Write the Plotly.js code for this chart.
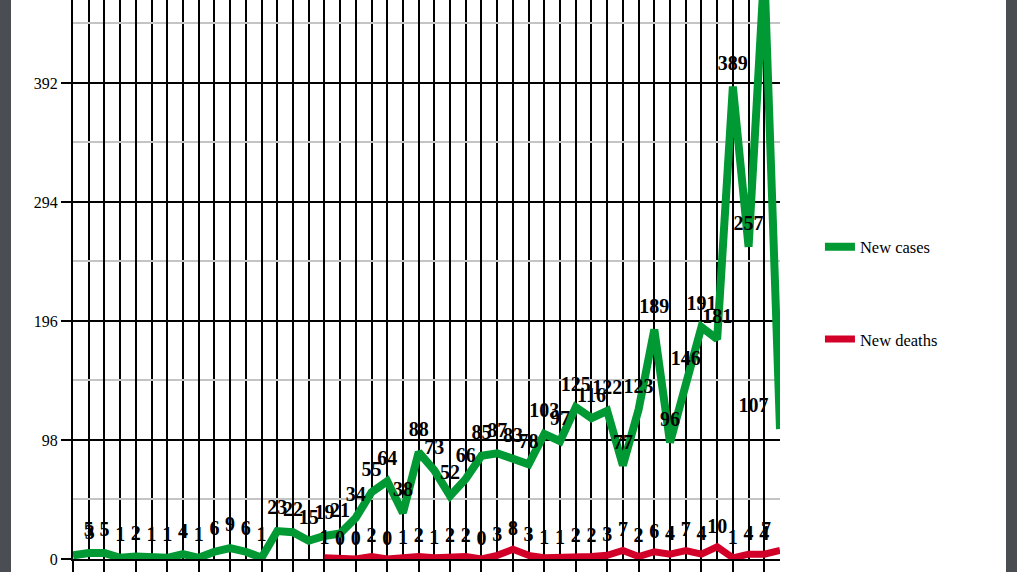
<!DOCTYPE html>
<html><head><meta charset="utf-8">
<script src="https://cdn.plot.ly/plotly-3.0.1.min.js"></script>
<style>
html,body{margin:0;padding:0;width:1017px;height:572px;overflow:hidden;background:#4a4d51;}
#frame{position:absolute;left:11px;top:0;width:995px;height:572px;background:#fff;}
#chart{width:995px;height:572px;}
</style></head><body>
<div id="frame"><div id="chart"></div></div>
<script>
const newCases = [3,5,5,1,2,1,1,4,1,6,9,6,1,23,22,15,19,21,34,55,64,38,88,73,52,66,85,87,83,78,103,97,125,116,122,77,123,189,96,146,191,181,389,257,485,107];
const newDeaths = [1,0,0,2,0,1,2,1,2,2,0,3,8,3,1,1,2,2,3,7,2,6,4,7,4,10,1,4,4,7];
const deathsStartDay = 16;
const yTickVals = [0, 98, 196, 294, 392];
const yMinorVals = [49, 147, 245, 343, 441];
const seriesNames = ['New cases', 'New deaths'];

const caseDays = newCases.map((_, i) => i);
const deathDays = newDeaths.map((_, i) => i + deathsStartDay);
const casePos = newCases.map((_, i) => i === 0 ? 'top right' : (i === newCases.length - 1 ? 'top left' : 'top center'));
const deathPos = newDeaths.map((_, i) => i === newDeaths.length - 1 ? 'top left' : 'top center');

const labelFont = {family: 'Liberation Serif', size: 20, color: '#000', weight: 'bold'};

const traces = [
  {x: caseDays, y: newCases, name: seriesNames[0], type: 'scatter', mode: 'lines+markers+text',
   text: newCases.map(String), textposition: casePos, textfont: labelFont, cliponaxis: false,
   marker: {size: 17, color: 'rgba(0,0,0,0)', line: {width: 0}}, line: {color: '#009933', width: 8},
   legendgroup: 'a', hoverinfo: 'skip'},
  {x: deathDays, y: newDeaths, name: seriesNames[1], type: 'scatter', mode: 'lines+markers+text',
   text: newDeaths.map(String), textposition: deathPos, textfont: labelFont, cliponaxis: false,
   marker: {size: 13, color: 'rgba(0,0,0,0)', line: {width: 0}}, line: {color: '#d20028', width: 7},
   legendgroup: 'b', hoverinfo: 'skip'}
];

const layout = {
  width: 995, height: 572,
  margin: {l: 62, r: 226, t: 0, b: 13, pad: 0},
  paper_bgcolor: '#ffffff', plot_bgcolor: '#ffffff',
  font: {family: 'Liberation Serif', size: 16, color: '#000'},
  showlegend: true,
  legend: {x: 1.0565, xanchor: 'left', y: 0.476, yanchor: 'middle', traceorder: 'grouped', tracegroupgap: 68,
           font: {family: 'Liberation Serif', size: 16.5, color: '#000'}, bgcolor: 'rgba(0,0,0,0)'},
  xaxis: {range: [0, 45], tick0: 0, dtick: 2, showgrid: true, gridcolor: '#000', gridwidth: 2,
          ticks: 'outside', ticklen: 13, tickwidth: 2, tickcolor: '#000', showticklabels: false,
          showline: true, linecolor: '#000', linewidth: 2, zeroline: false,
          minor: {dtick: 1, showgrid: true, gridcolor: '#000', gridwidth: 2, ticks: ''}},
  yaxis: {range: [0, 460.3], tickvals: yTickVals, ticktext: yTickVals.map(String), showgrid: true, gridcolor: '#000', gridwidth: 2,
          ticks: 'outside', ticklen: 10, tickwidth: 2, tickcolor: '#000',
          tickfont: {family: 'Liberation Serif', size: 16, color: '#000'},
          showline: true, linecolor: '#000', linewidth: 2, zeroline: false,
          minor: {tickvals: yMinorVals, showgrid: true, gridcolor: '#c4c4c4', gridwidth: 2, ticks: ''}}
};

Plotly.newPlot('chart', traces, layout, {displayModeBar: false, staticPlot: true});
</script>
</body></html>
